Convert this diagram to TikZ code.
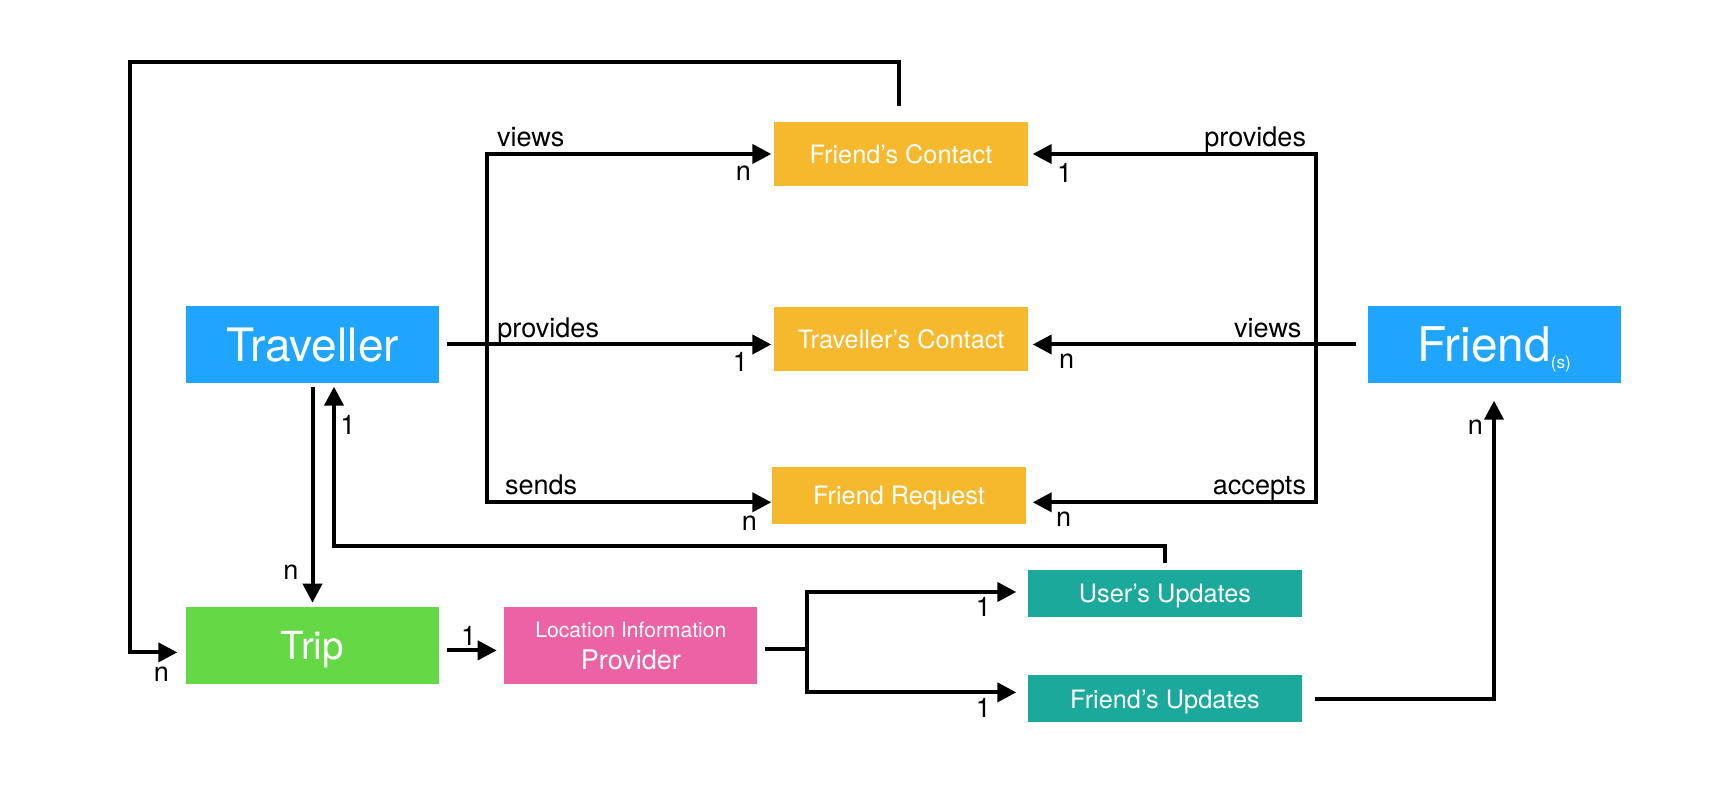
\documentclass[tikz,border=0pt]{standalone}
\usepackage{fontspec}
\setmainfont{TeX Gyre Heros}
\usepackage{tikz}
\usetikzlibrary{positioning}
\usetikzlibrary{arrows.meta}
\definecolor{actorBlue}{HTML}{1FA5FE}
\definecolor{recordOrange}{HTML}{F6B92D}
\definecolor{tripGreen}{HTML}{65D845}
\definecolor{providerPink}{HTML}{ED62A5}
\definecolor{updateTeal}{HTML}{1AA99B}
\tikzstyle{arrow} = [line width=0.4mm,-{Triangle[length=1.9mm,width=1.9mm]}]
\tikzstyle{line} = [line width=0.4mm]
\tikzstyle{actor} = [fill=actorBlue,text=white,minimum width=25.3mm,minimum height=7.7mm,inner sep=0pt,text depth=0pt,font=\fontsize{13.1}{15}\selectfont]
\tikzstyle{record} = [fill=recordOrange,text=white,minimum width=25.4mm,minimum height=6.4mm,inner sep=0pt,text depth=0pt,font=\fontsize{7.2}{8.6}\selectfont]
\tikzstyle{lbl} = [inner sep=0.8mm,font=\fontsize{7.7}{9}\selectfont]

\begin{document}
\begin{tikzpicture}[x=0.1mm,y=-0.1mm]
			\useasboundingbox (0,0) rectangle (1722,806);
			%Nodes
			\node (Traveller) [actor] at (312.5,344.5) {Traveller};
			\node (Friend) [actor,font=\fontsize{13.6}{16}\selectfont] at (1494,344.5) {Friend\raisebox{-0.7mm}[0pt][0pt]{\fontsize{4.9}{6}\selectfont(s)}};
			\node (Trip) [actor,fill=tripGreen,font=\fontsize{11}{13}\selectfont,below=22.3mm of Traveller] {Trip};
			\node (LocProvider) [actor,fill=providerPink,align=center,text depth=-0.6mm,font=\fontsize{7.7}{9.1}\selectfont,right=6.4mm of Trip] {{\fontsize{6}{7}\selectfont Location Information}\\Provider};
			\node (FriendContact) [record] at (901,154) {Friend’s Contact};
			\node (TravellerContact) [record,below=12mm of FriendContact] {Traveller’s Contact};
			\node (FriendRequest) [record,minimum height=5.7mm,below=9.4mm of TravellerContact,xshift=-0.2mm] {Friend Request};
			\node (UserUpdates) [record,fill=updateTeal,minimum width=27.4mm,minimum height=4.7mm] at (1165,593.5) {User’s Updates};
			\node (FriendUpdates) [record,fill=updateTeal,minimum width=27.4mm,minimum height=4.7mm,below=5.7mm of UserUpdates] {Friend’s Updates};
			
			%Corners
			\coordinate (busL) at (487,344.5);
			\coordinate (busR) at (1316,344.5);
			\coordinate (split) at (807,649);
			\coordinate (loopCorner) at (130,62);
			
			%Lines
			\draw[arrow,shorten <=1.5mm,shorten >=0.8mm] ([xshift=-0.2mm]FriendContact.north) |- (loopCorner) |- ([yshift=-0.65mm]Trip.west) node[lbl,pos=1,xshift=-2.4mm,yshift=-2.2mm]{n};
			\draw[arrow,shorten <=0.7mm,shorten >=0.2mm] (Traveller.east) -- (TravellerContact.west |- Traveller.east) node[lbl,pos=0.143,anchor=base west,yshift=0.7mm]{provides} node[lbl,pos=1,xshift=-3.3mm,yshift=-1.75mm]{1};
			\draw[arrow,shorten >=0.2mm] (busL) |- (FriendContact.west) node[lbl,pos=0.5,anchor=base west,yshift=0.7mm]{views} node[lbl,pos=1,xshift=-3mm,yshift=-1.9mm]{n};
			\draw[arrow] (busL) |- ([yshift=-0.7mm]FriendRequest.west) node[lbl,pos=0.5,anchor=base west,xshift=0.8mm,yshift=0.8mm]{sends} node[lbl,pos=1,xshift=-2.2mm,yshift=-2.1mm]{n};
			\draw[arrow,shorten <=1.05mm,shorten >=0.4mm] (Friend.west) -- (TravellerContact.east |- Friend.west) node[lbl,pos=0.152,anchor=base east,xshift=-0.4mm,yshift=0.7mm]{views} node[lbl,pos=1,xshift=3.8mm,yshift=-1.65mm]{n};
			\draw[arrow,shorten >=0.4mm] (busR) |- (FriendContact.east) node[lbl,pos=0.5,anchor=base east,yshift=0.7mm]{provides} node[lbl,pos=1,xshift=3.6mm,yshift=-1.9mm]{1};
			\draw[arrow,shorten >=0.6mm] (busR) |- ([yshift=-0.7mm]FriendRequest.east) node[lbl,pos=0.5,anchor=base east,yshift=0.8mm]{accepts} node[lbl,pos=1,xshift=3.7mm,yshift=-1.7mm]{n};
			\draw[arrow,shorten <=0.3mm,shorten >=0.4mm] (Traveller.south) -- (Trip.north) node[lbl,pos=1,xshift=-2.15mm,yshift=3.4mm]{n};
			\draw[arrow,shorten <=0.6mm,shorten >=0.3mm] (UserUpdates.north) -- ++(0,-23) -| ([xshift=2.15mm]Traveller.south) node[lbl,pos=1,xshift=1.4mm,yshift=-4.1mm]{1};
			\draw[arrow,shorten <=0.7mm,shorten >=0.7mm] ([yshift=-0.45mm]Trip.east) -- ([yshift=-0.45mm]LocProvider.west) node[lbl,pos=0.5,xshift=-0.3mm,yshift=1.4mm]{1};
			\draw[line,shorten <=0.7mm] (LocProvider.east |- split) -- (split);
			\draw[arrow,shorten >=1.1mm] (split) |- ([yshift=0.15mm]UserUpdates.west) node[lbl,pos=1,xshift=-4.4mm,yshift=-1.5mm]{1};
			\draw[arrow,shorten >=1.1mm] (split) |- ([yshift=0.65mm]FriendUpdates.west) node[lbl,pos=1,xshift=-4.4mm,yshift=-1.6mm]{1};
			\draw[arrow,shorten <=1.2mm,shorten >=1.7mm] (FriendUpdates.east) -| (Friend.south) node[lbl,pos=1,xshift=-1.85mm,yshift=-4.4mm]{n};
		\end{tikzpicture}
\end{document}
